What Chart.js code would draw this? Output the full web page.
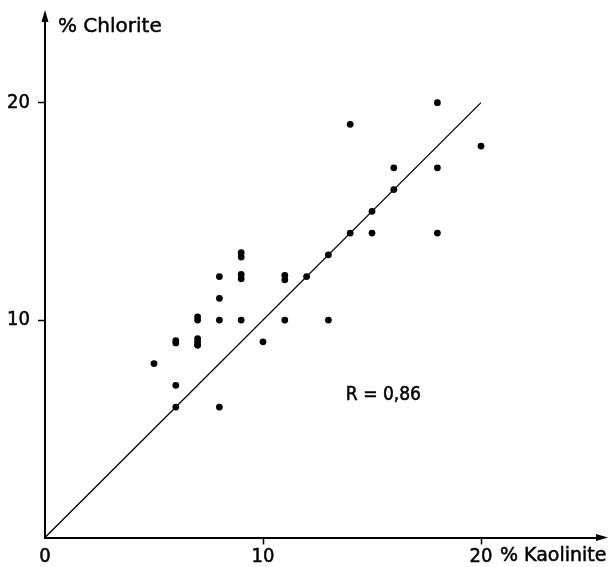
<!DOCTYPE html>
<html>
<head>
<meta charset="utf-8">
<script src="https://cdn.jsdelivr.net/npm/chart.js@4.4.1/dist/chart.umd.min.js"></script>
<style>
    html, body { margin: 0; padding: 0; background: #fff; }
    #wrap { width: 612px; height: 567px; position: relative; }
</style>
</head>
<body>
<div id="wrap"><canvas id="chart-wrapper"></canvas></div>
<script>
// % Kaolinite (x) and % Chlorite (y) for each sample
const kaolinite = [5, 6, 6, 6, 6, 7, 7, 7, 7, 7, 7, 8, 8, 8, 8, 9, 9, 9, 9, 9, 10, 11, 11, 11, 12, 13, 13, 14, 14, 15, 15, 16, 16, 18, 18, 18, 20];
const chlorite = [8, 9.05, 8.95, 7, 6, 10.15, 10, 9.15, 9, 8.85, 8.85, 12, 11, 10, 6, 13.1, 12.9, 12.1, 11.9, 10, 9, 12.05, 11.85, 10, 12, 13, 10, 19, 14, 15, 14, 17, 16, 20, 17, 14, 18];
const lineX = [0, 20];
const lineY = [0, 20];
const xTicks = [0, 10, 20];
const yTicks = [10, 20];
const xLabel = '% Kaolinite';
const yLabel = '% Chlorite';
const rText = 'R = 0,86';

const FONT = '"DejaVu Sans Condensed", "DejaVu Sans", sans-serif';
const WIDE = '"DejaVu Sans", sans-serif';

const points = kaolinite.map((k, i) => ({ x: k, y: chlorite[i] }));
const fitLine = lineX.map((v, i) => ({ x: v, y: lineY[i] }));

const axisExtras = {
    id: 'axisExtras',
    afterDraw: (chart) => {
        const { ctx, chartArea } = chart;
        const xs = chart.scales.x;
        const ys = chart.scales.y;
        const x0 = xs.getPixelForValue(0);
        const y0 = ys.getPixelForValue(0);
        ctx.save();
        ctx.strokeStyle = '#000';
        ctx.fillStyle = '#000';
        ctx.lineWidth = 2;
        // extend axes and arrow heads
        ctx.beginPath();
        ctx.moveTo(chartArea.right - 1, y0);
        ctx.lineTo(604, y0);
        ctx.moveTo(x0, chartArea.top + 1);
        ctx.lineTo(x0, 15);
        ctx.stroke();
        ctx.beginPath();
        ctx.moveTo(608, y0);
        ctx.lineTo(596, y0 - 3.5);
        ctx.lineTo(596, y0 + 3.5);
        ctx.closePath();
        ctx.fill();
        ctx.beginPath();
        ctx.moveTo(x0, 10);
        ctx.lineTo(x0 - 3.5, 22);
        ctx.lineTo(x0 + 3.5, 22);
        ctx.closePath();
        ctx.fill();

        ctx.textBaseline = 'middle';
        ctx.textAlign = 'left';
        ctx.lineWidth = 0.5;
        ctx.font = '20px ' + WIDE;
        ctx.fillText(yLabel, x0 + 13, 27);
        ctx.strokeText(yLabel, x0 + 13, 27);
        ctx.font = '19px ' + WIDE;
        ctx.fillText(xLabel, xs.getPixelForValue(20) + 19, 556);
        ctx.strokeText(xLabel, xs.getPixelForValue(20) + 19, 556);
        ctx.font = '19px ' + FONT;
        ctx.fillText(rText, xs.getPixelForValue(13.8), ys.getPixelForValue(6.55));
        ctx.strokeText(rText, xs.getPixelForValue(13.8), ys.getPixelForValue(6.55));
        ctx.restore();
    }
};

const ctx = document.getElementById('chart-wrapper');
const myChart = new Chart(ctx, {
    type: 'scatter',
    data: {
        datasets: [{
            data: points,
            backgroundColor: '#000',
            borderColor: '#000',
            pointRadius: 3.4,
            borderWidth: 0,
        }, {
            type: 'line',
            data: fitLine,
            borderColor: '#000',
            borderWidth: 1.3,
            pointRadius: 0,
            fill: false,
        }],
    },
    options: {
        responsive: true,
        maintainAspectRatio: false,
        animation: false,
        devicePixelRatio: 1,
        layout: { padding: { top: 18.7, right: 11.1, left: 0, bottom: 0 } },
        plugins: {
            legend: { display: false },
            tooltip: { enabled: false },
        },
        scales: {
            x: {
                type: 'linear',
                min: 0,
                max: 25.5,
                afterBuildTicks: (scale) => { scale.ticks = xTicks.map(v => ({ value: v })); },
                afterFit: (scale) => { scale.height = 29.5; },
                border: { display: true, color: '#000', width: 2 },
                grid: {
                    drawOnChartArea: false,
                    drawTicks: true,
                    tickLength: 7,
                    tickWidth: 1.5,
                    tickColor: (c) => c.tick && c.tick.value === 0 ? 'rgba(0,0,0,0)' : '#000',
                },
                ticks: {
                    color: '#000',
                    padding: 0,
                    maxRotation: 0,
                    textStrokeColor: '#000',
                    textStrokeWidth: 0.5,
                    font: { family: FONT, size: 20 },
                    callback: (v) => String(v),
                },
            },
            y: {
                type: 'linear',
                min: 0,
                max: 23.8,
                afterBuildTicks: (scale) => { scale.ticks = yTicks.map(v => ({ value: v })); },
                afterFit: (scale) => { scale.width = 45; },
                border: { display: true, color: '#000', width: 2 },
                grid: {
                    drawOnChartArea: false,
                    drawTicks: true,
                    tickLength: 7,
                    tickWidth: 1.5,
                    tickColor: '#000',
                },
                ticks: {
                    color: '#000',
                    padding: 8,
                    textStrokeColor: '#000',
                    textStrokeWidth: 0.5,
                    font: { family: FONT, size: 20 },
                    callback: (v) => String(v),
                },
            },
        },
    },
    plugins: [axisExtras],
});
</script>
</body>
</html>
